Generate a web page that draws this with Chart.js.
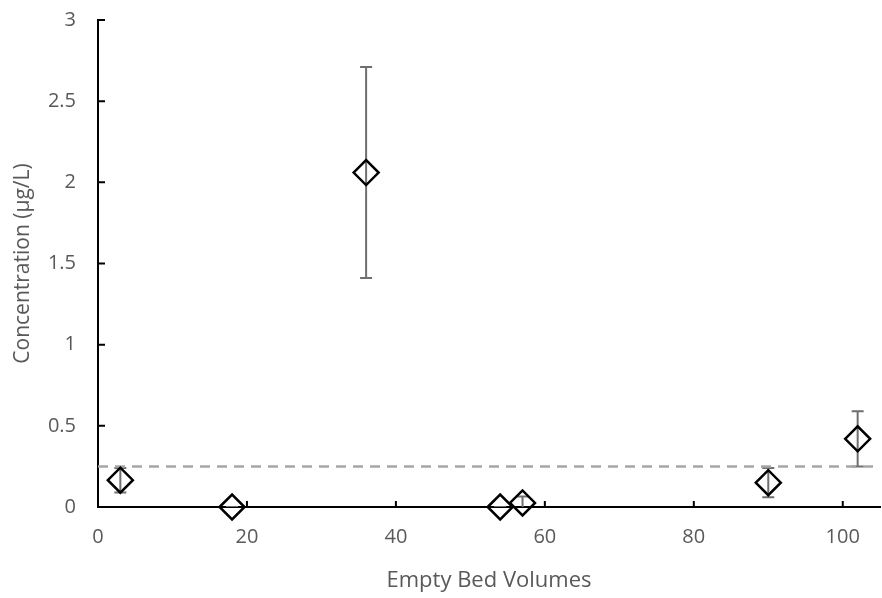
<!DOCTYPE html>
<html><head><meta charset="utf-8">
<script src="https://cdn.jsdelivr.net/npm/chart.js@4"></script>
<style>html,body{margin:0;padding:0;background:#fff;}#wrap{width:882px;height:598px;}</style>
</head><body><div id="wrap"><canvas id="c" width="882" height="598"></canvas></div>
<script>
const bedVolumes = [3, 18, 36, 54, 57, 90, 102];
const concentration = [0.165, 0.0, 2.06, 0.0, 0.025, 0.15, 0.42];
const errorAmount = [0.075, 0.0, 0.65, 0.0, 0.04, 0.09, 0.17];
const thresholdX = [0, 105];
const thresholdY = [0.25, 0.25];
const xTicks = [0, 20, 40, 60, 80, 100];
const yTicks = [0, 0.5, 1, 1.5, 2, 2.5, 3];

const FONT = "'Open Sans', sans-serif";
const TXT = '#595959';

const errorBarPlugin = {
  id: 'errorBars',
  beforeDatasetsDraw(chart) {
    const ctx = chart.ctx, xs = chart.scales.x, ys = chart.scales.y, a = chart.chartArea;
    ctx.save();
    ctx.beginPath();
    ctx.rect(a.left, a.top - 10, a.right - a.left, a.bottom - a.top + 10);
    ctx.clip();
    ctx.strokeStyle = '#6f6f6f';
    ctx.lineWidth = 2;
    bedVolumes.forEach((bv, i) => {
      const e = errorAmount[i];
      const px = xs.getPixelForValue(bv);
      const pTop = ys.getPixelForValue(concentration[i] + e);
      const pBot = ys.getPixelForValue(concentration[i] - e);
      ctx.beginPath();
      ctx.moveTo(px, pTop); ctx.lineTo(px, pBot);
      ctx.moveTo(px - 6, pTop); ctx.lineTo(px + 6, pTop);
      ctx.moveTo(px - 6, pBot); ctx.lineTo(px + 6, pBot);
      ctx.stroke();
    });
    ctx.restore();
  },
  afterDraw(chart) {
    const ctx = chart.ctx, xs = chart.scales.x, ys = chart.scales.y;
    ctx.save();
    ctx.strokeStyle = '#000';
    ctx.lineWidth = 2;
    ctx.beginPath();
    xTicks.forEach(v => { if (v === 0) return; const px = xs.getPixelForValue(v); ctx.moveTo(px, ys.bottom); ctx.lineTo(px, ys.bottom - 6); });
    yTicks.forEach(v => { if (v === 0) return; const py = ys.getPixelForValue(v); ctx.moveTo(xs.left, py); ctx.lineTo(xs.left + 7, py); });
    ctx.stroke();
    ctx.restore();
  }
};

new Chart(document.getElementById('c'), {
  type: 'scatter',
  data: {
    datasets: [
      {
        label: 'threshold',
        type: 'line',
        data: thresholdX.map((x, i) => ({x, y: thresholdY[i]})),
        borderColor: '#a6a6a6',
        borderWidth: 2.5,
        borderDash: [10, 7],
        pointRadius: 0,
        fill: false,
        order: 2
      },
      {
        label: 'Concentration',
        data: bedVolumes.map((x, i) => ({x, y: concentration[i]})),
        pointStyle: 'rectRot',
        pointRadius: 12.5,
        pointHoverRadius: 12.5,
        pointBorderWidth: 2.5,
        pointBackgroundColor: 'rgba(0,0,0,0)',
        pointBorderColor: '#000',
        clip: false,
        order: 1
      }
    ]
  },
  options: {
    responsive: false,
    animation: false,
    layout: { autoPadding: false, padding: { top: 20, right: 2, left: 0, bottom: 0 } },
    plugins: { legend: { display: false }, tooltip: { enabled: false } },
    scales: {
      x: {
        type: 'linear', min: 0, max: 105,
        afterBuildTicks: s => { s.ticks = xTicks.map(v => ({value: v})); },
        afterFit: s => { s.height = 91; s.paddingLeft = 0; s.paddingRight = 0; },
        grid: { display: false, drawTicks: false },
        border: { display: true, color: '#000', width: 2 },
        ticks: { color: TXT, font: { family: FONT, size: 20 }, padding: 18, maxRotation: 0, callback: v => String(v) },
        title: { display: true, text: 'Empty Bed Volumes', color: TXT, font: { family: FONT, size: 22 }, padding: { top: 10, bottom: 4 } }
      },
      y: {
        type: 'linear', min: 0, max: 3,
        afterBuildTicks: s => { s.ticks = yTicks.map(v => ({value: v})); },
        afterFit: s => { s.width = 98; s.paddingTop = 0; s.paddingBottom = 0; },
        grid: { display: false, drawTicks: false },
        border: { display: true, color: '#000', width: 2 },
        ticks: { color: TXT, font: { family: FONT, size: 20 }, padding: 22, callback: v => String(v) },
        title: { display: true, text: 'Concentration (µg/L)', color: TXT, font: { family: FONT, size: 21 }, padding: { top: 10, bottom: 6 } }
      }
    }
  },
  plugins: [errorBarPlugin]
});
</script></body></html>
